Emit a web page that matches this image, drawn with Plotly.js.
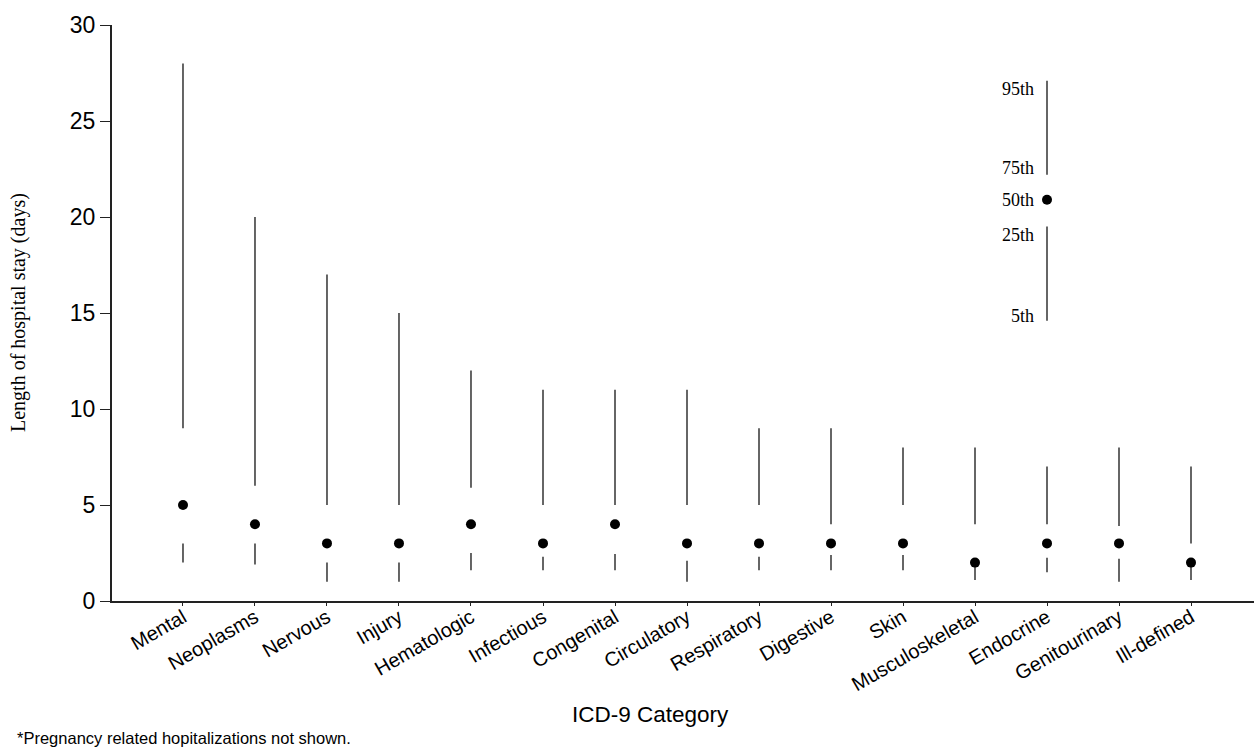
<!DOCTYPE html>
<html>
<head>
<meta charset="utf-8">
<script src="https://cdn.plot.ly/plotly-3.0.1.min.js"></script>
<style>html,body{margin:0;padding:0;background:#fff;}#chart{width:1254px;height:747px;}</style>
</head>
<body>
<div id="chart"></div>
<script>
// ICD-9 categories (x axis)
var categories = ['Mental','Neoplasms','Nervous','Injury','Hematologic','Infectious','Congenital','Circulatory','Respiratory','Digestive','Skin','Musculoskeletal','Endocrine','Genitourinary','Ill-defined'];
// Percentiles of length of hospital stay (days)
var p95 = [28, 20, 17, 15, 12, 11, 11, 11, 9, 9, 8, 8, 7, 8, 7];
var p75 = [9, 6, 5, 5, 5.9, 5, 5, 5, 5, 4, 5, 4, 4, 3.9, 3];
var p50 = [5, 4, 3, 3, 4, 3, 4, 3, 3, 3, 3, 2, 3, 3, 2];
var p25 = [3, 3, 2, 2, 2.5, 2.3, 2.45, 2.1, 2.3, 2.4, 2.4, 2, 2.25, 2.2, 2];
var p5  = [2, 1.9, 1, 1, 1.6, 1.6, 1.6, 1, 1.6, 1.6, 1.6, 1.1, 1.5, 1, 1.1];
// Key (legend) drawn above the Endocrine position
var keyLabels = ['95th', '75th', '50th', '25th', '5th'];
var keyValues = [27.1, 22.2, 20.9, 19.5, 14.6];
var keyPosition = 12;

var idx = categories.map(function(_, i){ return i; });

function segs(top, bottom, xs) {
  var x = [], y = [];
  for (var i = 0; i < top.length; i++) {
    x.push(xs[i], xs[i], null);
    y.push(top[i], bottom[i], null);
  }
  return {x: x, y: y};
}

var upper = segs(p95, p75, idx);
var lower = segs(p25, p5, idx);
var lineStyle = {color: '#333', width: 1.5};
var dot = {color: '#000', size: 10};

var traces = [
  {x: upper.x, y: upper.y, mode: 'lines', line: lineStyle, hoverinfo: 'skip', showlegend: false},
  {x: lower.x, y: lower.y, mode: 'lines', line: lineStyle, hoverinfo: 'skip', showlegend: false},
  {x: idx, y: p50, mode: 'markers', marker: dot, showlegend: false},
  // key
  {x: [keyPosition, keyPosition], y: [keyValues[0], keyValues[1]], mode: 'lines', line: lineStyle, showlegend: false, hoverinfo: 'skip'},
  {x: [keyPosition], y: [keyValues[2]], mode: 'markers', marker: dot, showlegend: false, hoverinfo: 'skip'},
  {x: [keyPosition, keyPosition], y: [keyValues[3], keyValues[4]], mode: 'lines', line: lineStyle, showlegend: false, hoverinfo: 'skip'}
];

var serif = 'Liberation Serif, Times New Roman, serif';
var sans = 'Liberation Sans, Arial, sans-serif';
var keyShifts = [-8, 7, 0, -8, 5];
var annotations = keyLabels.map(function(lab, i){
  return {x: keyPosition, y: keyValues[i], xref: 'x', yref: 'y', text: lab, showarrow: false,
    xanchor: 'right', yanchor: 'middle', xshift: -11, yshift: keyShifts[i],
    font: {family: serif, size: 18, color: '#000'}};
});
annotations.push({x: 0, y: 0.5, xref: 'paper', yref: 'paper', text: 'Length of hospital stay (days)',
  showarrow: false, textangle: -90, xanchor: 'center', yanchor: 'middle', xshift: -94,
  font: {family: serif, size: 20, color: '#000'}});
annotations.push({x: 0.5, y: 0, xref: 'paper', yref: 'paper', text: 'ICD-9 Category',
  showarrow: false, xanchor: 'center', yanchor: 'middle', xshift: -33, yshift: -113,
  font: {family: sans, size: 22.5, color: '#000'}});
annotations.push({x: 0, y: 0, xref: 'paper', yref: 'paper', text: '*Pregnancy related hopitalizations not shown.',
  showarrow: false, xanchor: 'left', yanchor: 'middle', xshift: -97, yshift: -137,
  font: {family: sans, size: 16.5, color: '#000'}});

var layout = {
  width: 1254, height: 747,
  margin: {l: 112, r: 0, t: 25, b: 146},
  paper_bgcolor: '#fff', plot_bgcolor: '#fff',
  showlegend: false,
  xaxis: {
    range: [-0.986, 14.875], tickvals: idx, ticktext: categories, tickangle: -30,
    showgrid: false, zeroline: false, showline: true, linecolor: '#222', linewidth: 2,
    ticks: 'outside', ticklen: 3, tickcolor: '#222', ticklabelstandoff: -8,
    tickfont: {family: sans, size: 20, color: '#000'}
  },
  yaxis: {
    range: [0, 30], tickvals: [0, 5, 10, 15, 20, 25, 30],
    showgrid: false, zeroline: false, showline: true, linecolor: '#222', linewidth: 2,
    ticks: 'outside', ticklen: 10, tickcolor: '#222',
    tickfont: {family: sans, size: 23, color: '#000'}
  },
  annotations: annotations
};

Plotly.newPlot('chart', traces, layout, {displayModeBar: false, staticPlot: true});
</script>
</body>
</html>
